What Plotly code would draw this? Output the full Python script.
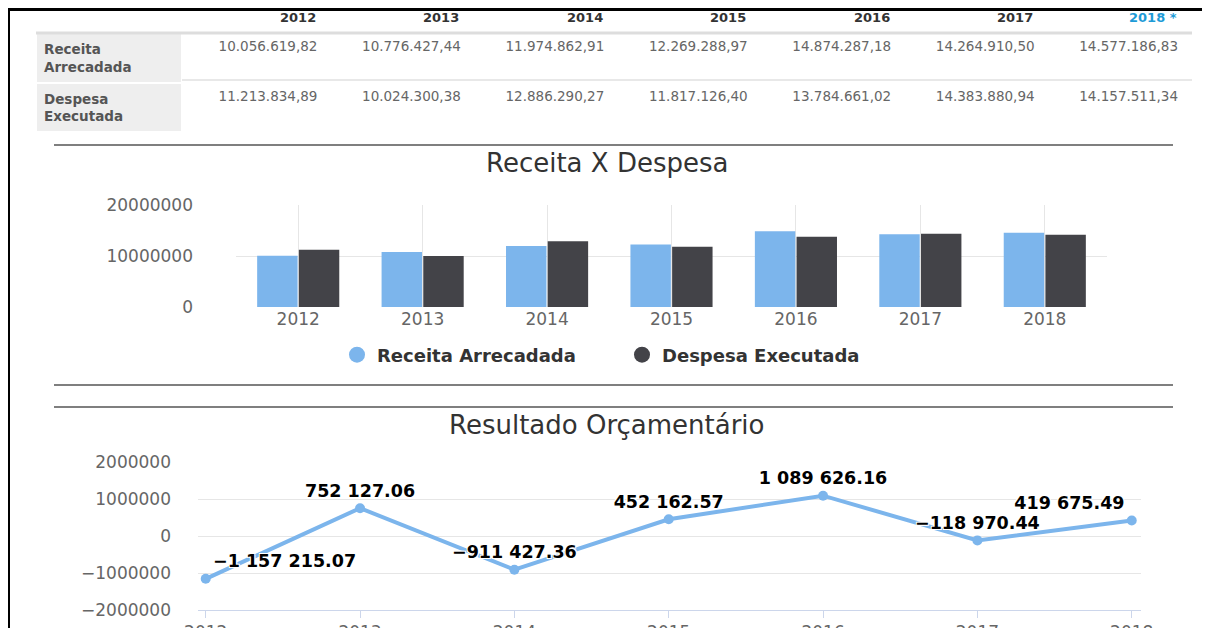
import plotly.graph_objects as go

# ---------------- data ----------------
years = ["2012", "2013", "2014", "2015", "2016", "2017", "2018"]
header_years = ["2012", "2013", "2014", "2015", "2016", "2017", "2018 *"]
row_labels = ["Receita<br>Arrecadada", "Despesa<br>Executada"]
series_names = ["Receita Arrecadada", "Despesa Executada"]
receita = [10056619.82, 10776427.44, 11974862.91, 12269288.97, 14874287.18, 14264910.50, 14577186.83]
despesa = [11213834.89, 10024300.38, 12886290.27, 11817126.40, 13784661.02, 14383880.94, 14157511.34]
resultado = [-1157215.07, 752127.06, -911427.36, 452162.57, 1089626.16, -118970.44, 419675.49]
bar_ticks = [0, 10000000, 20000000]
line_ticks = [-2000000, -1000000, 0, 1000000, 2000000]
title_bar = "Receita X Despesa"
title_line = "Resultado Orçamentário"

# ---------------- helpers ----------------
W, H = 1210, 628
OFF = 8  # page body margin offset


def px(x):
    return (x - OFF) / W


def py(y):
    return 1 - (y - OFF) / H


def fmt_br(v):
    return f"{v:,.2f}".replace(",", "X").replace(".", ",").replace("X", ".")


def fmt_sp(v):
    s = f"{abs(v):,.2f}".replace(",", " ")
    return ("\u2212" if v < 0 else "") + s


BLUE = "#7cb5ec"
DARK = "#434348"
CF = "DejaVu Sans"

fig = go.Figure()

# ---------------- table ----------------
cell_values = [[f"<b>{t}</b>" for t in row_labels]] + [[fmt_br(r), fmt_br(d)] for r, d in zip(receita, despesa)]
ncol = len(header_years)
tab_x0, lab_w, val_w, cell_pad = 36, 146, 143.5, 8
fig.add_trace(go.Table(
    domain=dict(x=[px(tab_x0), px(tab_x0 + lab_w + val_w * ncol)], y=[py(142), py(17)]),
    columnwidth=[lab_w] + [val_w] * ncol,
    header=dict(values=[], height=0, line=dict(width=0), fill=dict(color="rgba(0,0,0,0)")),
    cells=dict(
        values=cell_values,
        align=["left"] + ["right"] * ncol,
        fill=dict(color=["#eeeeee"] + ["white"] * ncol),
        line=dict(color="white", width=2),
        font=dict(family=CF, size=13.5, color=["#555555"] + ["#666666"] * ncol),
        height=46,
    ),
))

annotations = []
# table column headers (years)
for i, h in enumerate(header_years):
    annotations.append(dict(
        text=f"<b>{h}</b>", xref="paper", yref="paper",
        x=px(tab_x0 + lab_w + (i + 1) * val_w - cell_pad), y=py(17), showarrow=False,
        xanchor="right", yanchor="middle",
        font=dict(family=CF, size=13, color="#1e9bd7" if i == ncol - 1 else "#333333")))

# ---------------- bar chart ----------------
fig.add_trace(go.Bar(x=years, y=receita, name=series_names[0], marker=dict(color=BLUE, line=dict(width=0)),
                     xaxis="x", yaxis="y", showlegend=False, hoverinfo="x+y"))
fig.add_trace(go.Bar(x=years, y=despesa, name=series_names[1], marker=dict(color=DARK, line=dict(width=0)),
                     xaxis="x", yaxis="y", showlegend=False, hoverinfo="x+y"))
# legend entries with circular symbols
for nm, col in zip(series_names, [BLUE, DARK]):
    fig.add_trace(go.Scatter(x=[None], y=[None], mode="markers", name=nm,
                             marker=dict(size=16, color=col, symbol="circle"),
                             xaxis="x", yaxis="y", showlegend=True))

# ---------------- line chart ----------------
n = len(resultado)
positions = ["top right" if i == 0 else ("top left" if i == n - 1 else "top center") for i in range(n)]
fig.add_trace(go.Scatter(
    x=years, y=resultado, mode="lines+markers+text",
    text=[fmt_sp(v) for v in resultado], textposition=positions,
    line=dict(color=BLUE, width=4), marker=dict(size=10, color=BLUE),
    textfont=dict(family=CF, size=17.5, color="black", weight="bold",
                  shadow="1px 1px 0 white, -1px -1px 0 white, 1px -1px 0 white, -1px 1px 0 white"),
    xaxis="x2", yaxis="y2", showlegend=False, cliponaxis=False,
))

# ---------------- shapes ----------------
shapes = []
line_col = "#555555"
for yy in [145, 385, 407]:
    shapes.append(dict(type="line", xref="paper", yref="paper", x0=px(54), x1=px(1173), y0=py(yy), y1=py(yy),
                       line=dict(color=line_col, width=1.5)))
# table rules
shapes.append(dict(type="line", xref="paper", yref="paper", x0=px(tab_x0), x1=px(1192), y0=py(33), y1=py(33),
                   line=dict(color="#dddddd", width=3), layer="above"))
shapes.append(dict(type="line", xref="paper", yref="paper", x0=px(tab_x0 + lab_w), x1=px(1192), y0=py(80), y1=py(80),
                   line=dict(color="#e8e8e8", width=2), layer="above"))
# page frame
shapes.append(dict(type="line", xref="paper", yref="paper", x0=px(7), x1=1.0, y0=py(9.5), y1=py(9.5),
                   line=dict(color="black", width=3)))
shapes.append(dict(type="line", xref="paper", yref="paper", x0=px(9), x1=px(9), y0=py(9), y1=0.0,
                   line=dict(color="black", width=2)))

annotations += [
    dict(text=title_bar, xref="paper", yref="paper", x=px(607), y=py(163), showarrow=False,
         xanchor="center", yanchor="middle", font=dict(family=CF, size=26, color="#333333")),
    dict(text=title_line, xref="paper", yref="paper", x=px(607), y=py(425), showarrow=False,
         xanchor="center", yanchor="middle", font=dict(family=CF, size=26, color="#333333")),
]

tickfont = dict(family=CF, size=17, color="#666666")

fig.update_layout(
    width=W, height=H, margin=dict(l=0, r=0, t=0, b=0, autoexpand=False),
    paper_bgcolor="white", plot_bgcolor="white",
    barmode="group", bargap=0.33, bargroupgap=0.03,
    showlegend=True,
    legend=dict(orientation="h", x=px(622), xanchor="center", y=py(355), yanchor="middle",
                font=dict(family=CF, size=18, color="#333333", weight="bold"),
                entrywidth=240, entrywidthmode="pixels",
                itemsizing="trace", bgcolor="rgba(0,0,0,0)"),
    xaxis=dict(domain=[px(236), px(1107)], type="category", range=[-0.5, 6.5],
               showgrid=True, gridcolor="#e6e6e6", showline=False, ticks="",
               tickfont=tickfont, anchor="y", fixedrange=True, automargin=False),
    yaxis=dict(domain=[py(307), py(205)], range=[0, 20000000], tickvals=bar_ticks, tickformat="d",
               showgrid=True, gridcolor="#e6e6e6", zeroline=False, showline=False,
               tickfont=tickfont, ticklabelstandoff=42, anchor="x", fixedrange=True, automargin=False),
    xaxis2=dict(domain=[px(198), px(1141)], type="category", range=[-0.05, 6.06],
                showgrid=False, showline=True, linecolor="#ccd6eb", linewidth=1,
                ticks="outside", tickcolor="#ccd6eb", ticklen=7,
                tickfont=tickfont, anchor="y2", fixedrange=True, automargin=False),
    yaxis2=dict(domain=[py(610), py(462)], range=[-2000000, 2000000], tickvals=line_ticks, tickformat="d",
                showgrid=True, gridcolor="#e6e6e6", zeroline=False, showline=False,
                tickfont=tickfont, ticklabelstandoff=26, anchor="x2", fixedrange=True, automargin=False),
    shapes=shapes, annotations=annotations,
)

fig.write_html("out.html")
